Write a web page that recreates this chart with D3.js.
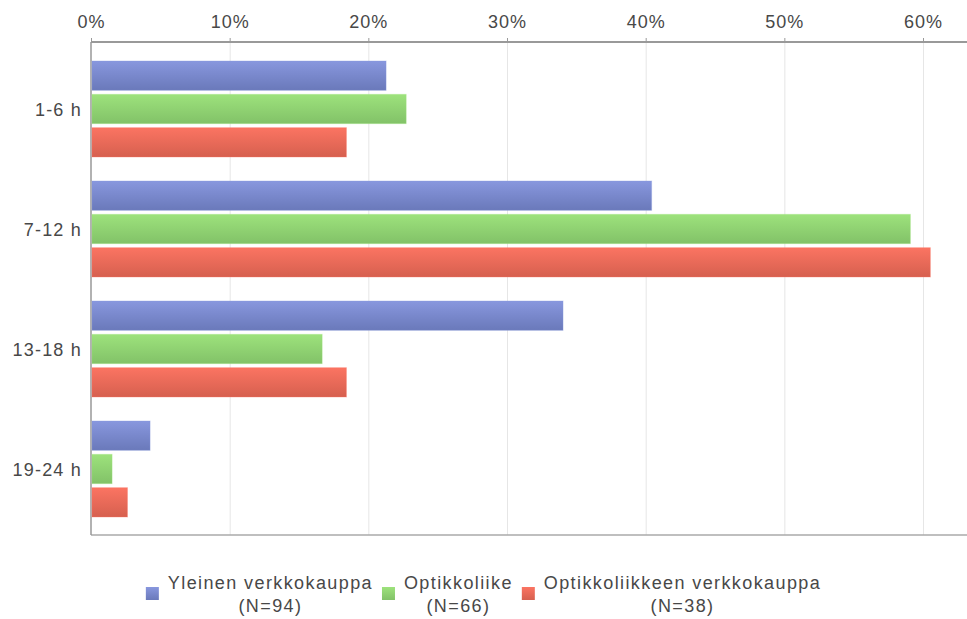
<!DOCTYPE html>
<html>
<head>
<meta charset="utf-8">
<script src="https://cdn.jsdelivr.net/npm/d3@7"></script>
<style>
  html, body { margin: 0; padding: 0; background: #fff; }
  svg { display: block; }
  text { font-family: Arial, "Liberation Sans", sans-serif; fill: #484848; }
</style>
</head>
<body>
<svg id="chart" width="967" height="619"></svg>
<script>
const categories = ["1-6 h", "7-12 h", "13-18 h", "19-24 h"];
const seriesNames = ["Yleinen verkkokauppa", "Optikkoliike", "Optikkoliikkeen verkkokauppa"];
const seriesN = ["(N=94)", "(N=66)", "(N=38)"];
const yleinen = [21.28, 40.43, 34.04, 4.26];
const optikkoliike = [22.73, 59.09, 16.67, 1.52];
const optikkoVerkko = [18.42, 60.53, 18.42, 2.63];
const tickValues = [0, 10, 20, 30, 40, 50, 60];
const tickLabels = ["0%", "10%", "20%", "30%", "40%", "50%", "60%"];
const colorsTop = ["#8897de", "#9de27c", "#fb7462"];
const colorsBottom = ["#6a79ba", "#82c268", "#d6604f"];

const seriesValues = [yleinen, optikkoliike, optikkoVerkko];

const svg = d3.select("#chart");
const plot = { left: 91, right: 966, top: 42, bottom: 535 };

const x = d3.scaleLinear().domain([0, 63.1]).range([plot.left, plot.right]);
const y0 = d3.scaleBand().domain(categories).range([49, 529]).paddingInner(0.2).paddingOuter(0.1);
const y1 = d3.scaleBand().domain(d3.range(seriesNames.length)).range([0, y0.bandwidth()]).paddingInner(0.12);

// gradients
const defs = svg.append("defs");
seriesNames.forEach((s, i) => {
  const g = defs.append("linearGradient").attr("id", "grad" + i)
    .attr("x1", 0).attr("y1", 0).attr("x2", 0).attr("y2", 1);
  g.append("stop").attr("offset", "0%").attr("stop-color", colorsTop[i]);
  g.append("stop").attr("offset", "100%").attr("stop-color", colorsBottom[i]);
});

// gridlines
svg.append("g").selectAll("line").data(tickValues.slice(1)).join("line")
  .attr("x1", d => x(d) + 0.5).attr("x2", d => x(d) + 0.5)
  .attr("y1", plot.top).attr("y2", plot.bottom)
  .attr("stroke", "#e6e6e6").attr("stroke-width", 1);

// top axis
const xAxis = d3.axisTop(x).tickValues(tickValues)
  .tickFormat((d, i) => tickLabels[i]).tickSize(4).tickPadding(10);
const gx = svg.append("g").attr("transform", `translate(0,${plot.top})`).call(xAxis);
gx.select(".domain").remove();
gx.selectAll(".tick line").attr("stroke", "#999").attr("stroke-width", 1);
gx.selectAll(".tick text").attr("font-size", 18).attr("letter-spacing", "1px")
  .style("font-family", "Arial, 'Liberation Sans', sans-serif").attr("fill", "#484848");

// frame lines
svg.append("line").attr("x1", plot.left).attr("x2", plot.right + 1)
  .attr("y1", plot.top).attr("y2", plot.top).attr("stroke", "#999").attr("stroke-width", 2);
svg.append("line").attr("x1", plot.left).attr("x2", plot.right + 1)
  .attr("y1", plot.bottom).attr("y2", plot.bottom).attr("stroke", "#aaa").attr("stroke-width", 1.5);
svg.append("line").attr("x1", plot.left).attr("x2", plot.left)
  .attr("y1", plot.top).attr("y2", plot.bottom).attr("stroke", "#999").attr("stroke-width", 1.5);

// bars
const groups = svg.append("g").selectAll("g").data(categories).join("g")
  .attr("transform", d => `translate(0,${y0(d)})`);
groups.selectAll("rect").data((c, ci) => seriesValues.map((vals, si) => ({ si, v: vals[ci] })))
  .join("rect")
  .attr("x", x(0) + 1)
  .attr("y", d => y1(d.si))
  .attr("width", d => x(d.v) - x(0) - 1)
  .attr("height", y1.bandwidth())
  .attr("fill", d => `url(#grad${d.si})`)
  .attr("stroke", d => colorsTop[d.si])
  .attr("stroke-opacity", 0.35)
  .attr("stroke-width", 1);

// category labels
svg.append("g").selectAll("text").data(categories).join("text")
  .attr("x", 82)
  .attr("y", d => y0(d) + y0.bandwidth() / 2 + 7)
  .attr("text-anchor", "end")
  .attr("font-size", 18)
  .attr("letter-spacing", "1.2px")
  .text(d => d);

// legend
const legend = svg.append("g");
const items = [];
seriesNames.forEach((s, i) => {
  const g = legend.append("g");
  const sq = g.append("rect").attr("width", 13).attr("height", 13)
    .attr("fill", `url(#grad${i})`);
  const t1 = g.append("text").attr("font-size", 18).attr("letter-spacing", "1.4px").attr("text-anchor", "middle").text(s);
  const t2 = g.append("text").attr("font-size", 18).attr("letter-spacing", "1.4px").attr("text-anchor", "middle").text(seriesN[i]);
  const w = Math.max(t1.node().getComputedTextLength(), t2.node().getComputedTextLength());
  items.push({ g, sq, t1, t2, w });
});
const sqW = 13, gapSq = 9, gapItem = 9;
const total = d3.sum(items, d => sqW + gapSq + d.w) + gapItem * (items.length - 1);
let cx = 967 / 2 - total / 2;
items.forEach(it => {
  it.sq.attr("x", cx).attr("y", 587);
  const tc = cx + sqW + gapSq + it.w / 2;
  it.t1.attr("x", tc).attr("y", 589);
  it.t2.attr("x", tc).attr("y", 612);
  cx += sqW + gapSq + it.w + gapItem;
});
</script>
</body>
</html>
